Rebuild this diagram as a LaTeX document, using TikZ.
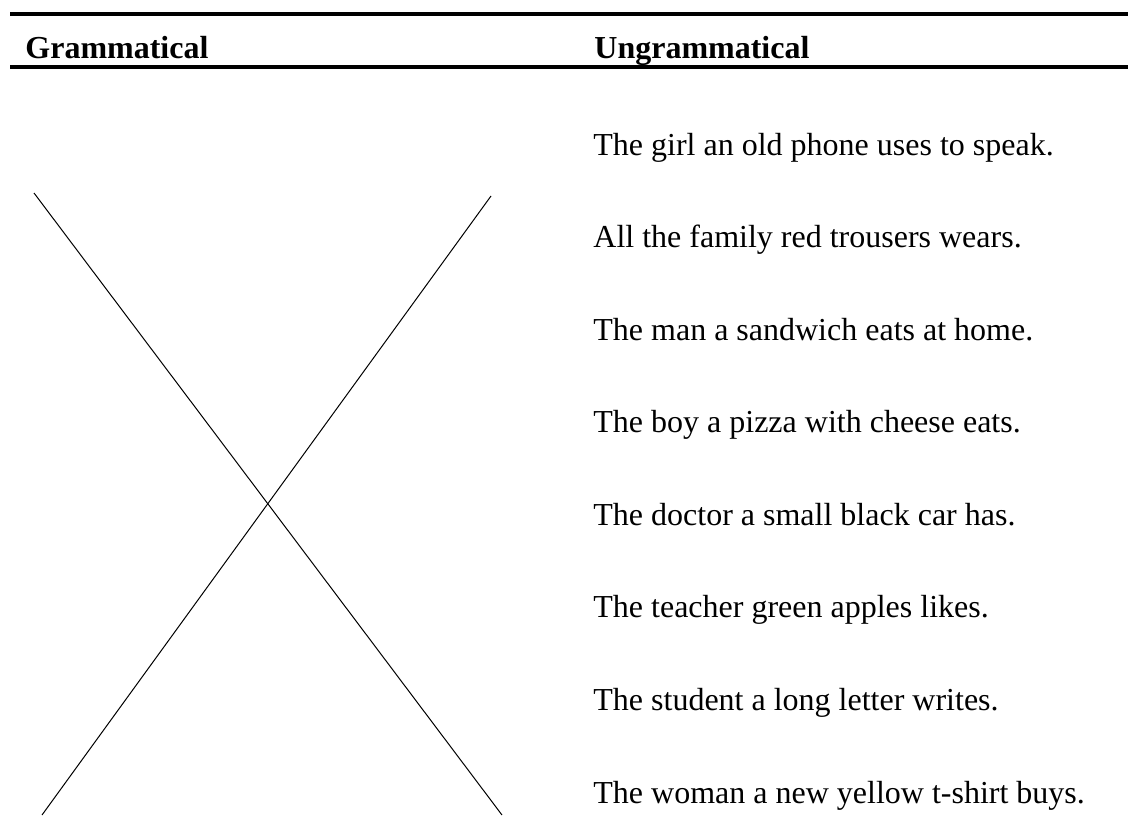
\documentclass[tikz,border=0pt]{standalone}
\usepackage{fontspec}
\setmainfont{Liberation Serif}
\usetikzlibrary{positioning}

\begin{document}
\begin{tikzpicture}[x=0.5pt, y=-0.5pt, every node/.style={font=\fontsize{16}{19}\selectfont, inner sep=0pt}]
\tikzstyle{header} = [anchor=base west, font=\fontsize{16}{19}\selectfont\bfseries]
\tikzstyle{sentence} = [anchor=base west]
\tikzstyle{rule} = [line width=2pt]
\tikzstyle{cross} = [line width=0.5pt]

\useasboundingbox (0,0) rectangle (1128,819);

% Rules
\draw[rule] (10,14) -- (1128,14);
\draw[rule] (10,67) -- (1128,67);

% Header
\node[header] (gram) at (25,58) {Grammatical};
\node[header] (ungram) at (594,58) {Ungrammatical};

% Sentences
\node[sentence] (s1) at (593,155) {The girl an old phone uses to speak.};
\node[sentence] (s2) at (593,247.6) {All the family red trousers wears.};
\node[sentence] (s3) at (593,340.1) {The man a sandwich eats at home.};
\node[sentence] (s4) at (593,432.7) {The boy a pizza with cheese eats.};
\node[sentence] (s5) at (593,525.3) {The doctor a small black car has.};
\node[sentence] (s6) at (593,617.9) {The teacher green apples likes.};
\node[sentence] (s7) at (593,710.4) {The student a long letter writes.};
\node[sentence] (s8) at (593,803) {The woman a new yellow t-shirt buys.};

% Cross
\coordinate (tl) at (34,193);
\coordinate (br) at (502,815);
\coordinate (tr) at (491,196);
\coordinate (bl) at (42,815);
\draw[cross] (tl) -- (br);
\draw[cross] (tr) -- (bl);

\end{tikzpicture}
\end{document}
